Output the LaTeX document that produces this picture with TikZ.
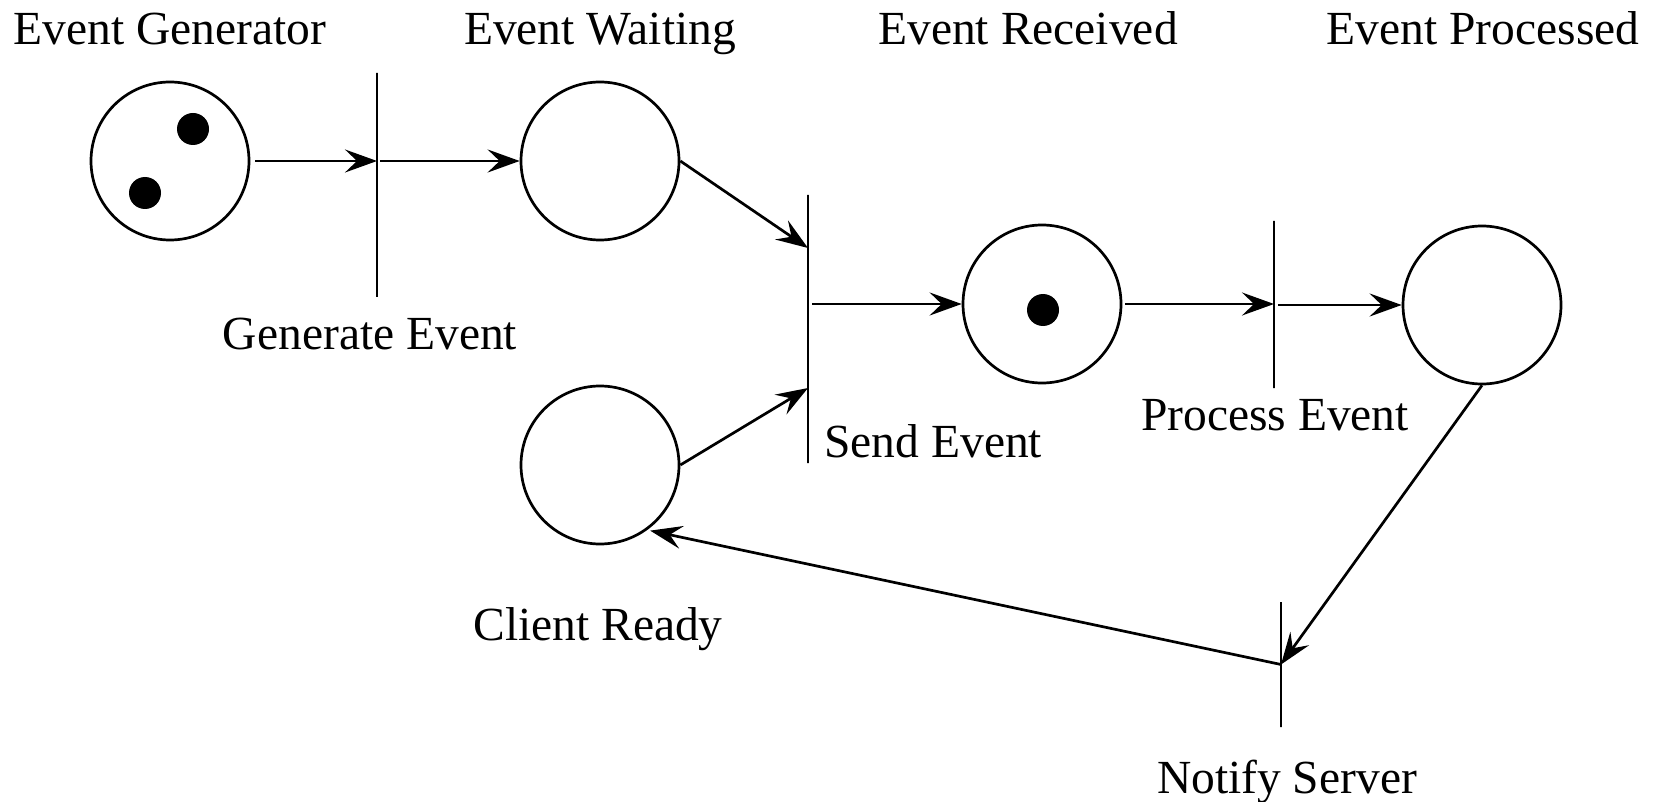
\documentclass[tikz,border=0pt]{standalone}
\usepackage{fontspec}
\setmainfont{Liberation Serif}
\usetikzlibrary{arrows.meta,calc}
\begin{document}
\begin{tikzpicture}[x=0.5pt,y=-0.5pt,
  place/.style={circle,draw,line width=1.35pt,minimum size=79pt,inner sep=0pt},
  trans/.style={rectangle,draw,line width=1.35pt,minimum width=0pt,inner sep=0pt},
  token/.style={circle,fill=black,minimum size=16pt,inner sep=0pt},
  arc/.style={-{Stealth[length=16pt,width=11.5pt,inset=6pt]},line width=1.35pt},
  lbl/.style={anchor=base,inner sep=0pt,font=\fontsize{23.75}{28}\selectfont}]
\useasboundingbox (0,0) rectangle (1654,802);

% places
\node[place] (eg) at (170,161) {};
\node[place] (ew) at (600,161) {};
\node[place] (er) at (1042,304) {};
\node[place] (ep) at (1482,305) {};
\node[place] (cr) at (600,465) {};

% tokens
\node[token] (eg1) at (193,129) {};
\node[token] (eg2) at (145,193) {};
\node[token] (er1) at (1043,310) {};

% transitions
\node[trans,minimum height=112pt] (gen)  at (377,185) {};
\node[trans,minimum height=134pt] (send) at (808,329) {};
\node[trans,minimum height=83.5pt] (proc) at (1274,304.5) {};
\node[trans,minimum height=62.5pt] (ns)  at (1281,664.5) {};

% arcs
\draw[arc,shorten <=2.5pt] (eg.east) -- (eg.east -| gen);
\draw[arc,shorten <=1.5pt] (gen |- ew.west) -- (ew.west);
\draw[arc] (ew.east) -- ($(send.center)+(0,-81)$);
\draw[arc] (cr.east) -- ($(send.center)+(0,59)$);
\draw[arc,shorten <=2pt] (send |- er.west) -- (er.west);
\draw[arc,shorten <=1.5pt] (er.east) -- (er.east -| proc);
\draw[arc,shorten <=2pt] (proc |- ep.west) -- (ep.west);
\draw[arc] (ep.south) -- (ns.center);
\draw[arc,shorten >=1.5pt] (ns.center) -- (cr.-54);

% labels
\node[lbl] (leg) at (170,45) {Event Generator};
\node[lbl] (lew) at (600,45) {Event Waiting};
\node[lbl] (ler) at (1028,45) {Event Received};
\node[lbl] (lep) at (1483,45) {Event Processed};
\node[lbl] (lgen) at (370,349) {Generate Event};
\node[lbl,anchor=base west] (lsend) at (824,457) {Send Event};
\node[lbl] (lproc) at (1275,430) {Process Event};
\node[lbl] (lcr) at (598,640) {Client Ready};
\node[lbl] (lns) at (1287,793) {Notify Server};
\end{tikzpicture}
\end{document}
